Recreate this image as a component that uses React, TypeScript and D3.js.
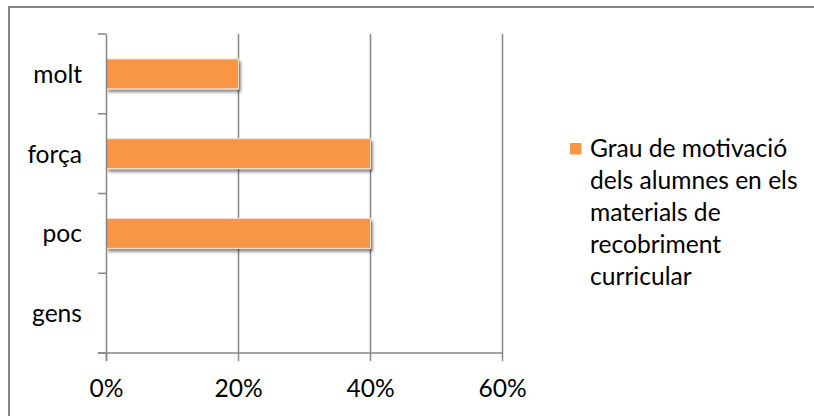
import React from "react";
import * as d3 from "d3";

const categories = ["molt", "força", "poc", "gens"];
const values = [0.2, 0.4, 0.4, 0];
const xTicks = [0, 0.2, 0.4, 0.6];
const legendLines = ["Grau de motivació", "dels alumnes en els", "materials de", "recobriment", "curricular"];

const W = 814;
const H = 416;
const FONT = "Lato, 'Open Sans', sans-serif";
const FS = 24.6;
const BAR = "#F79646";
const GRID = "#868686";

export default function App() {
  const x = d3.scaleLinear().domain([0, 0.6]).range([106.5, 502.5]);
  const y = d3.scaleBand<string>().domain(categories).range([34, 353]).paddingInner(0).paddingOuter(0);
  const barH = y.bandwidth() * 0.375;
  const fmt = d3.format(".0%");
  const boundaries = d3.range(categories.length + 1).map((i) => 34 + i * y.step());

  return (
    <svg
      width={W}
      height={H}
      style={{ position: "absolute", left: 0, top: 0, display: "block" }}
      fontFamily={FONT}
    >
      <defs>
        <filter id="shadow" x="-10%" y="-30%" width="130%" height="180%">
          <feGaussianBlur in="SourceAlpha" stdDeviation="1.8" />
          <feOffset dx="1.5" dy="3" result="b" />
          <feComponentTransfer>
            <feFuncA type="linear" slope="0.45" />
          </feComponentTransfer>
          <feMerge>
            <feMergeNode />
            <feMergeNode in="SourceGraphic" />
          </feMerge>
        </filter>
      </defs>
      <rect x={0} y={0} width={W} height={H} fill="#fff" />
      {/* chart frame */}
      <rect x={9} y={7} width={W + 10} height={H + 10} fill="none" stroke={GRID} strokeWidth={2} />

      {/* gridlines */}
      {xTicks.slice(1).map((t) => (
        <line key={"g" + t} x1={x(t)} x2={x(t)} y1={34} y2={353} stroke={GRID} strokeWidth={1.5} />
      ))}

      {/* bars */}
      {categories.map((c, i) =>
        values[i] > 0 ? (
          <rect
            key={c}
            x={x(0)}
            y={(y(c) as number) + y.bandwidth() / 2 - barH / 2}
            width={x(values[i]) - x(0)}
            height={barH}
            fill={BAR}
            stroke="#fde3cf"
            strokeWidth={1}
            filter="url(#shadow)"
          />
        ) : null
      )}

      {/* y axis */}
      <line x1={x(0)} x2={x(0)} y1={34} y2={361} stroke={GRID} strokeWidth={1.5} />
      {boundaries.map((b) => (
        <line key={"yt" + b} x1={98} x2={x(0)} y1={b} y2={b} stroke={GRID} strokeWidth={1.5} />
      ))}
      {/* x axis */}
      <line x1={98} x2={x(0.6)} y1={353} y2={353} stroke={GRID} strokeWidth={1.5} />
      {xTicks.map((t) => (
        <line key={"xt" + t} x1={x(t)} x2={x(t)} y1={353} y2={361} stroke={GRID} strokeWidth={1.5} />
      ))}

      {/* labels */}
      {categories.map((c) => (
        <text
          key={"l" + c}
          x={82}
          y={(y(c) as number) + y.bandwidth() / 2 + 9}
          textAnchor="end"
          fontSize={FS}
          fill="#000"
        >
          {c}
        </text>
      ))}
      {xTicks.map((t) => (
        <text key={"xl" + t} x={x(t)} y={397} textAnchor="middle" fontSize={FS} fill="#000">
          {fmt(t)}
        </text>
      ))}

      {/* legend */}
      <rect x={570} y={143} width={11.5} height={11.5} fill={BAR} />
      {legendLines.map((l, i) => (
        <text key={"lg" + i} x={590} y={157 + i * 32} fontSize={FS} fill="#000">
          {l}
        </text>
      ))}
    </svg>
  );
}
